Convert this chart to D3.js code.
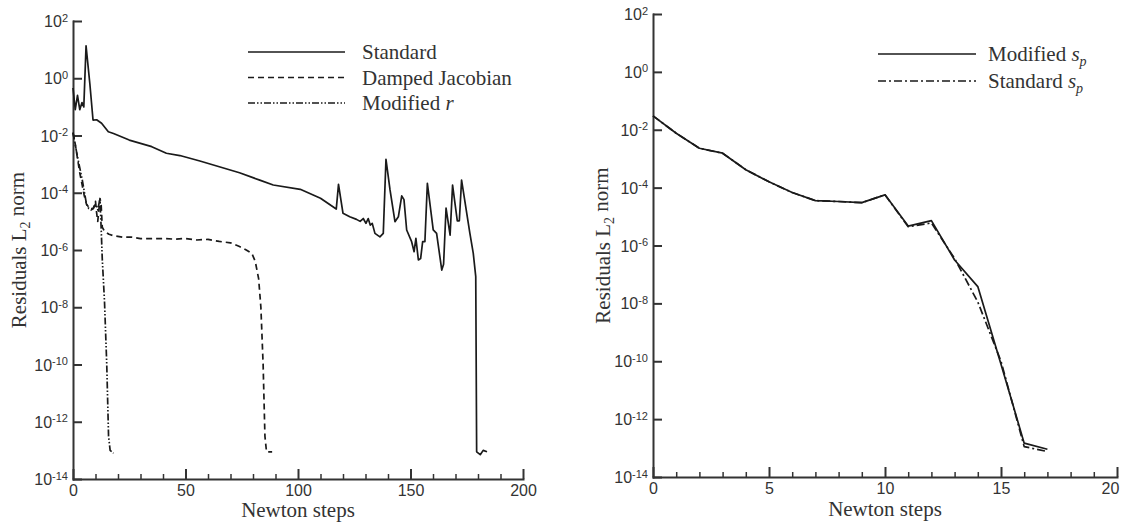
<!DOCTYPE html>
<html><head><meta charset="utf-8">
<script src="https://cdn.jsdelivr.net/npm/d3@7"></script>
<style>body{margin:0;background:#fff}</style></head>
<body><svg id="chart" width="1123" height="525"></svg>
<script>
// ---------- data (log10 of residual L2 norm vs Newton step) ----------
const yExponents = [2, 0, -2, -4, -6, -8, -10, -12, -14];
const leftXTicks = [0, 50, 100, 150, 200];
const leftXMinor = [10, 20, 30, 40, 60, 70, 80, 90, 110, 120, 130, 140, 160, 170, 180, 190];
const rightXTicks = [0, 5, 10, 15, 20];
const rightXMinor = [1, 2, 3, 4, 6, 7, 8, 9, 11, 12, 13, 14, 16, 17, 18, 19];

const leftSeriesNames = ["Standard", "Damped Jacobian", "Modified r"];
const rightSeriesNames = ["Modified s_p", "Standard s_p"];

const standardSteps = [0,1,2,3,4,4.8,5.8,7.5,8.9,10.5,12.7,15.7,18,25,35,41.5,47.5,56.4,74,83,89,101,110,117,118,120,123,126,127.6,129,130.2,131.2,132.1,133,134.2,136.4,137.9,139.1,140.9,143.1,144.6,146.1,147.1,148.3,150.5,151.6,152.4,153.5,154.5,155.4,156.4,157.5,160.1,161.6,163.9,164.7,165.8,167.6,168.7,170.8,171.7,172.7,176.4,177.9,179,179.4,181,182.3,184];
const standardLog = [-0.34,-1.1,-0.6,-1.1,-0.85,-1.0,1.13,-0.2,-1.46,-1.45,-1.57,-1.87,-1.93,-2.16,-2.39,-2.62,-2.7,-2.89,-3.3,-3.56,-3.73,-3.88,-4.19,-4.57,-3.71,-4.72,-4.84,-4.93,-5.0,-4.9,-5.07,-4.9,-5.13,-5.07,-5.42,-5.54,-5.42,-2.83,-3.9,-5.01,-4.84,-4.11,-4.24,-5.3,-5.71,-6.06,-5.59,-6.35,-6.3,-5.71,-5.71,-3.67,-5.3,-5.42,-6.7,-6.5,-4.54,-5.48,-3.73,-4.98,-4.98,-3.56,-5.42,-6.12,-6.93,-13.05,-13.15,-13.0,-13.05];

const dampedSteps = [0,1,2,3,4,5,6,7,8,9,10,10.5,11,12,12.5,13,14,16,18,22,26,30,35,40,45,50,55,60,65,70,74,77,79.5,81,82.5,83.5,84.5,85.3,86,88.5];
const dampedLog = [-1.9,-2.3,-2.8,-3.3,-3.7,-4.1,-4.4,-4.5,-4.6,-4.55,-4.3,-4.7,-5.0,-4.2,-4.4,-5.2,-5.35,-5.45,-5.5,-5.55,-5.55,-5.6,-5.6,-5.6,-5.62,-5.6,-5.65,-5.63,-5.7,-5.75,-5.88,-6.0,-6.12,-6.4,-7.0,-8.0,-10.0,-12.5,-13.05,-13.05];

const modRSteps = [0,2,4,5,6,7,9,10,11,12,12.5,13,14,15,15.8,16.5,18];
const modRLog = [-1.9,-2.75,-3.5,-3.95,-4.4,-4.55,-4.55,-4.4,-4.6,-4.2,-5.2,-6.3,-7.8,-10.0,-12.5,-13.0,-13.1];

const rightSteps = [0,1,2,3,4,5,6,7,8,9,10,11,12,13,14,15,16,17];
const modifiedSpLog = [-1.52,-2.12,-2.64,-2.81,-3.38,-3.8,-4.17,-4.45,-4.48,-4.52,-4.25,-5.33,-5.14,-6.5,-7.42,-10.1,-12.83,-13.04];
const standardSpLog = [-1.52,-2.12,-2.64,-2.81,-3.38,-3.8,-4.17,-4.45,-4.48,-4.52,-4.25,-5.35,-5.22,-6.45,-7.95,-10.0,-12.95,-13.12];

// ---------- drawing ----------
const svg = d3.select("#chart");
const INK = "#1a1a1a", AXIS = "#333", TEXT = "#333";
const SERIF = "'Liberation Serif','Times New Roman',serif";
const SANS = "'Liberation Sans',Arial,Helvetica,sans-serif";

function toPts(xs, ls) { return xs.map((s, i) => [s, Math.pow(10, ls[i])]); }

function panel(cfg) {
  const g = svg.append("g");
  const x = d3.scaleLinear().domain(cfg.xDomain).range(cfg.xRange);
  const y = d3.scaleLog().domain([1e-14, 1e2]).range(cfg.yRange);
  const y0 = cfg.yRange[0];

  // minor x ticks
  g.append("g").attr("transform", `translate(0,${y0})`)
    .call(d3.axisBottom(x).tickValues(cfg.xMinor).tickSizeInner(-5).tickSizeOuter(0).tickFormat(""))
    .call(a => a.select(".domain").remove())
    .selectAll("line").attr("stroke", AXIS).attr("stroke-width", 1.5);

  // major x axis
  const xa = g.append("g").attr("transform", `translate(0,${y0})`)
    .call(d3.axisBottom(x).tickValues(cfg.xTicks).tickSizeInner(-10).tickSizeOuter(0).tickPadding(5).tickFormat(d3.format("d")));
  xa.select(".domain").attr("stroke", AXIS).attr("stroke-width", 2).attr("stroke-linecap", "square");
  xa.selectAll("line").attr("stroke", AXIS).attr("stroke-width", 2);
  xa.selectAll("text").attr("font-family", SANS).attr("font-size", 16).attr("fill", TEXT).attr("dy", "0.75em")
    .attr("dx", d => (d === cfg.xDomain[1] ? cfg.lastLabelShift : 0));

  // y axis
  const ya = g.append("g").attr("transform", `translate(${cfg.xRange[0]},0)`)
    .call(d3.axisLeft(y).tickValues(yExponents.map(e => Math.pow(10, e))).tickSizeInner(-9).tickSizeOuter(0).tickPadding(5));
  ya.select(".domain").attr("stroke", AXIS).attr("stroke-width", 2).attr("stroke-linecap", "square");
  ya.selectAll("line").attr("stroke", AXIS).attr("stroke-width", 2);
  ya.selectAll(".tick text").each(function(d) {
    const t = d3.select(this);
    const e = Math.round(Math.log10(d));
    t.text(null).attr("font-family", SANS).attr("fill", TEXT).attr("font-size", 16).attr("dy", "0.35em");
    t.append("tspan").text("10");
    t.append("tspan").attr("dy", "-0.5em").attr("font-size", 11).text(String(e));
  });

  // titles
  const cx = (cfg.xRange[0] + cfg.xRange[1]) / 2;
  g.append("text").attr("x", cx).attr("y", cfg.xTitleY).attr("text-anchor", "middle")
    .attr("font-family", SERIF).attr("font-size", 21).attr("fill", TEXT).text("Newton steps");
  const cy = (cfg.yRange[0] + cfg.yRange[1]) / 2;
  const yt = g.append("text").attr("transform", `translate(${cfg.yTitleX},${cy}) rotate(-90)`)
    .attr("text-anchor", "middle").attr("font-family", SERIF).attr("font-size", 21).attr("fill", TEXT);
  yt.append("tspan").text("Residuals L");
  yt.append("tspan").attr("font-size", 14).attr("dy", "0.3em").text("2");
  yt.append("tspan").attr("dy", "-0.3em").text(" norm");

  // series
  const line = d3.line().x(d => x(d[0])).y(d => y(d[1]));
  cfg.series.forEach(s => {
    g.append("path").datum(s.pts).attr("d", line).attr("fill", "none")
      .attr("stroke", INK).attr("stroke-width", 1.7).attr("stroke-linejoin", "round")
      .attr("stroke-dasharray", s.dash);
  });

  // legend
  cfg.series.forEach((s, i) => {
    const ly = cfg.legend.y0 + i * cfg.legend.dy;
    g.append("line").attr("x1", cfg.legend.x1).attr("x2", cfg.legend.x2).attr("y1", ly).attr("y2", ly)
      .attr("stroke", INK).attr("stroke-width", 1.6).attr("stroke-dasharray", s.legendDash || s.dash);
    const t = g.append("text").attr("x", cfg.legend.tx).attr("y", ly + 7)
      .attr("font-family", SERIF).attr("font-size", 21).attr("fill", TEXT);
    s.label(t);
  });
}

panel({
  xDomain: [0, 200], xRange: [73, 523], yRange: [479, 21], lastLabelShift: 0,
  xTicks: leftXTicks, xMinor: leftXMinor, xTitleY: 517, yTitleX: 26,
  legend: { x1: 248, x2: 345, tx: 362, y0: 52, dy: 25.5 },
  series: [
    { pts: toPts(standardSteps, standardLog), dash: null,
      label: t => t.text(leftSeriesNames[0]) },
    { pts: toPts(dampedSteps, dampedLog), dash: "6,4",
      label: t => t.text(leftSeriesNames[1]) },
    { pts: toPts(modRSteps, modRLog), dash: "7,2,1.5,2,1.5,2",
      label: t => { t.append("tspan").text("Modified "); t.append("tspan").attr("font-style", "italic").text("r"); } }
  ]
});

panel({
  xDomain: [0, 20], xRange: [653, 1117], yRange: [477, 14], lastLabelShift: -7,
  xTicks: rightXTicks, xMinor: rightXMinor, xTitleY: 516, yTitleX: 610,
  legend: { x1: 878, x2: 976, tx: 988, y0: 54, dy: 27 },
  series: [
    { pts: toPts(rightSteps, modifiedSpLog), dash: null,
      label: t => { t.append("tspan").text("Modified "); t.append("tspan").attr("font-style", "italic").text("s");
                    t.append("tspan").attr("font-style", "italic").attr("font-size", 14).attr("dy", "0.35em").text("p"); } },
    { pts: toPts(rightSteps, standardSpLog), dash: "8,3,2,3",
      label: t => { t.append("tspan").text("Standard "); t.append("tspan").attr("font-style", "italic").text("s");
                    t.append("tspan").attr("font-style", "italic").attr("font-size", 14).attr("dy", "0.35em").text("p"); } }
  ]
});
</script></body></html>
